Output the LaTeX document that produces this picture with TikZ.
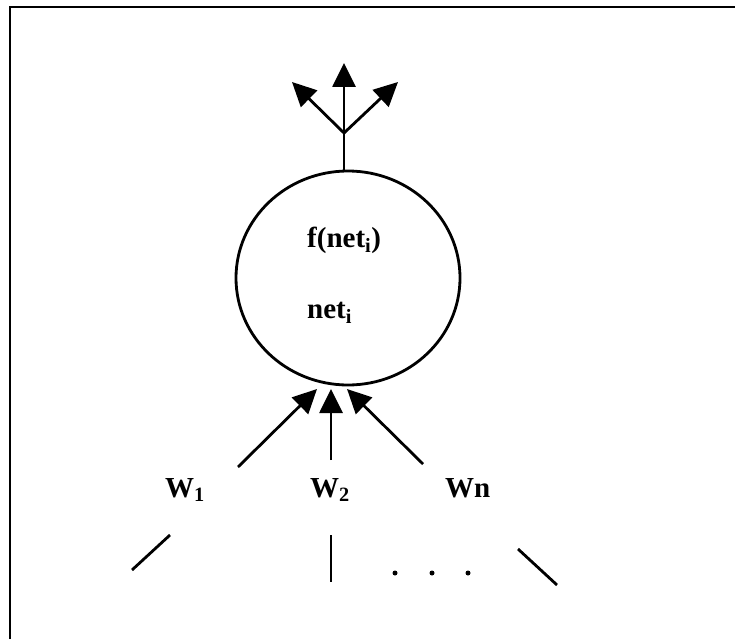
\documentclass[tikz,border=0pt]{standalone}
\usepackage{fontspec}
\setmainfont{Liberation Serif}
\usetikzlibrary{arrows.meta, shapes.geometric}
\tikzset{
  unitnode/.style={draw, ellipse, line width=2.8pt, minimum width=224pt,
                   minimum height=214pt, inner sep=0pt},
  wlabel/.style={font=\fontsize{29}{33}\selectfont\bfseries, inner sep=0pt},
  arr/.style={-{Triangle[length=24pt,width=23pt]}, line width=2.8pt},
  stub/.style={line width=2.8pt},
  dot/.style={circle, fill, inner sep=0pt, minimum size=5pt},
}
\begin{document}
\begin{tikzpicture}[x=1pt, y=-1pt]
  \useasboundingbox (0,0) rectangle (735,639);
  % frame (only top and left edge)
  \draw[line width=2pt] (10,639) -- (10,7) -- (735,7);

  \node[unitnode] (unit) at (348,278) {};
  \node[wlabel, anchor=base west] (fnet) at (307,247) {f(net\textsubscript{i})};
  \node[wlabel, anchor=base west] (net) at (307,318) {net\textsubscript{i}};

  % outputs
  \coordinate (fork) at (344,133);
  \coordinate (out1) at (292,82);
  \coordinate (out2) at (344,63);
  \coordinate (out3) at (398,82);
  \draw[stub] (unit.north -| fork) -- (fork);
  \draw[arr] (fork) -- (out1);
  \draw[arr] (fork) -- (out2);
  \draw[arr] (fork) -- (out3);

  % weighted inputs
  \coordinate (in1) at (238,467);
  \coordinate (in2) at (331,460);
  \coordinate (in3) at (423,464);
  \coordinate (tip1) at (317,389);
  \coordinate (tip2) at (331,389);
  \coordinate (tip3) at (347,389);
  \draw[arr] (in1) -- (tip1);
  \draw[arr] (in2) -- (tip2);
  \draw[arr] (in3) -- (tip3);

  \node[wlabel, anchor=base west] (w1) at (165,497) {W\textsubscript{1}};
  \node[wlabel, anchor=base west] (w2) at (310,497) {W\textsubscript{2}};
  \node[wlabel, anchor=base west] (wn) at (445,497) {Wn};

  % incoming lines
  \coordinate (a1) at (170,535);
  \coordinate (b1) at (132,570);
  \coordinate (a2) at (331,535);
  \coordinate (b2) at (331,582);
  \coordinate (a3) at (518,549);
  \coordinate (b3) at (557,585);
  \draw[stub] (a1) -- (b1);
  \draw[stub] (a2) -- (b2);
  \draw[stub] (a3) -- (b3);
  \foreach \x [count=\i] in {395,432,468}
    \node[dot] (dot\i) at (\x,573) {};
\end{tikzpicture}
\end{document}
